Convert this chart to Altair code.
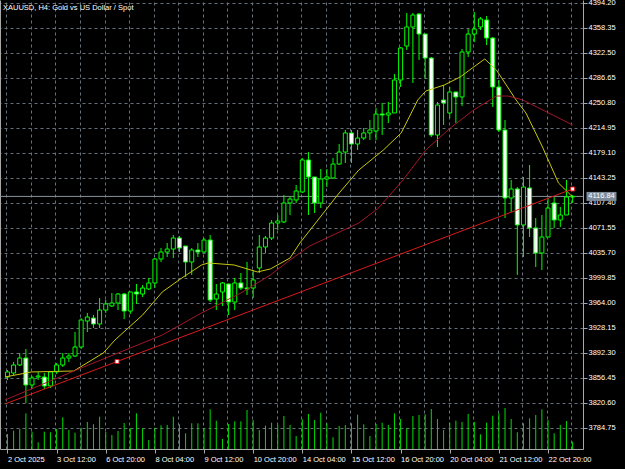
import altair as alt
import pandas as pd

# ---------------- data ----------------
title_text = "XAUUSD, H4:  Gold vs US Dollar / Spot"

opens = [3857.9, 3863.6, 3875.1, 3885.1, 3846.4, 3857.9, 3857.9, 3845.0, 3865.1, 3875.1,
         3885.1, 3888.0, 3900.9, 3938.2, 3942.4, 3933.9, 3953.9, 3959.7, 3964.0, 3976.9,
         3952.5, 3979.8, 3976.9, 3984.1, 3992.7, 4027.1, 4037.1, 4041.4, 4057.2, 4045.7,
         4022.8, 4040.0, 4037.1, 4054.3, 3969.7, 3979.8, 3991.3, 3965.4, 3992.7, 3985.5,
         3985.5, 4014.2, 4044.3, 4057.2, 4078.7, 4080.2, 4107.4, 4111.7, 4123.2, 4169.1,
         4144.7, 4107.4, 4141.8, 4143.3, 4163.3, 4180.5, 4207.8, 4192.0, 4200.6, 4207.8,
         4210.6, 4235.0, 4233.6, 4236.5, 4283.8, 4332.5, 4359.8, 4378.4, 4349.7, 4315.3,
         4204.9, 4255.1, 4236.5, 4266.6, 4259.4, 4323.9, 4349.7, 4359.8, 4369.8, 4344.0,
         4273.7, 4212.1, 4114.6, 4127.5, 4075.9, 4128.9, 4071.6, 4035.7, 4058.6, 4107.4,
         4083.0, 4090.2, 4116.0]
highs = [3867.9, 3879.4, 3892.3, 3898.0, 3859.3, 3865.1, 3863.6, 3866.5, 3877.9, 3892.3,
         3892.3, 3922.4, 3942.4, 3949.7, 3946.8, 3971.2, 3968.3, 3978.3, 3978.3, 3978.3,
         3979.8, 3991.3, 3989.8, 3999.9, 4028.5, 4042.9, 4050.0, 4061.5, 4060.1, 4045.7,
         4042.9, 4050.0, 4057.2, 4061.5, 3991.3, 3994.1, 3991.3, 3999.9, 4007.0, 4022.8,
         4011.3, 4061.5, 4060.1, 4083.0, 4090.2, 4118.9, 4117.4, 4133.2, 4171.9, 4180.5,
         4144.7, 4156.2, 4156.2, 4171.9, 4192.0, 4212.1, 4212.1, 4212.1, 4215.0, 4226.4,
         4243.6, 4250.8, 4252.2, 4292.4, 4331.1, 4379.9, 4379.9, 4379.9, 4349.7, 4316.8,
         4252.2, 4276.6, 4273.7, 4266.6, 4328.2, 4356.9, 4381.3, 4374.1, 4375.6, 4345.4,
         4283.8, 4226.4, 4140.4, 4130.3, 4144.7, 4161.9, 4085.9, 4090.2, 4114.6, 4116.0,
         4101.7, 4140.4, 4118.9]
lows = [3853.6, 3860.8, 3873.7, 3820.6, 3840.7, 3853.6, 3840.7, 3842.1, 3862.2, 3872.2,
        3879.4, 3886.6, 3898.0, 3922.4, 3928.2, 3928.2, 3949.7, 3958.3, 3953.9, 3941.0,
        3948.2, 3962.6, 3972.6, 3982.6, 3985.5, 4022.8, 4030.0, 4028.5, 4037.1, 4001.3,
        4004.2, 4030.0, 4035.7, 3965.4, 3953.9, 3959.7, 3946.8, 3953.9, 3982.6, 3975.5,
        3971.2, 4007.0, 4035.7, 4054.3, 4068.7, 4078.7, 4090.2, 4107.4, 4121.7, 4090.2,
        4093.1, 4100.2, 4130.3, 4141.8, 4161.9, 4164.8, 4164.8, 4183.4, 4197.7, 4197.7,
        4197.7, 4204.9, 4222.1, 4236.5, 4273.7, 4326.8, 4279.5, 4312.5, 4285.2, 4202.0,
        4187.7, 4219.3, 4229.3, 4222.1, 4246.5, 4316.8, 4338.3, 4355.5, 4334.0, 4245.1,
        4209.2, 4085.9, 4094.5, 4004.2, 4030.0, 4058.6, 4015.6, 4011.3, 4058.6, 4071.6,
        4073.0, 4090.2, 4107.4]
closes = [3865.1, 3875.1, 3885.1, 3846.4, 3856.5, 3859.3, 3845.0, 3865.1, 3875.1, 3885.1,
          3888.0, 3900.9, 3939.6, 3943.9, 3933.9, 3953.9, 3962.6, 3964.0, 3976.9, 3952.5,
          3979.8, 3976.9, 3985.5, 3992.7, 4027.1, 4037.1, 4041.4, 4057.2, 4042.9, 4022.8,
          4040.0, 4037.1, 4054.3, 3968.3, 3976.9, 3992.7, 3965.4, 3992.7, 3985.5, 3984.1,
          3997.0, 4044.3, 4057.2, 4078.7, 4081.6, 4107.4, 4113.1, 4124.6, 4169.1, 4144.7,
          4107.4, 4141.8, 4144.7, 4163.3, 4180.5, 4207.8, 4192.0, 4200.6, 4207.8, 4212.1,
          4235.0, 4233.6, 4236.5, 4283.8, 4329.7, 4359.8, 4377.0, 4349.7, 4315.3, 4204.9,
          4247.9, 4250.8, 4266.6, 4259.4, 4323.9, 4349.7, 4356.9, 4371.3, 4344.0, 4273.7,
          4212.1, 4114.6, 4127.5, 4075.9, 4130.3, 4071.6, 4035.7, 4058.6, 4100.2, 4083.0,
          4090.2, 4116.0, 4116.84]
volumes = [15000, 18300, 20000, 35700, 17300, 6700, 17300, 16700, 20000, 31700,
           19000, 16300, 21300, 27000, 24700, 32300, 17000, 14000, 18000, 26000,
           20700, 35700, 20700, 9000, 21300, 23700, 24000, 32300, 24700, 15700,
           25700, 25700, 20700, 39700, 28300, 10000, 25000, 27700, 27700, 39000,
           29000, 19000, 23300, 26300, 24000, 33000, 24000, 13000, 29700, 35000,
           29000, 36300, 25700, 11700, 23000, 24000, 25700, 34300, 24700, 13000,
           25000, 26300, 24000, 35700, 30000, 20700, 33000, 34000, 34700, 40000,
           30000, 19000, 26300, 28300, 27000, 35000, 27000, 14700, 26300, 33300,
           35700, 41000, 30000, 16700, 25700, 30700, 34000, 39700, 29000, 15700,
           24000, 28000, 7300]

tick_bars = [0, 8, 16, 24, 32, 40, 48, 56, 64, 72, 80, 88]
tick_labels = ["2 Oct 2025", "3 Oct 12:00", "6 Oct 20:00", "8 Oct 04:00", "9 Oct 12:00",
               "10 Oct 20:00", "14 Oct 04:00", "15 Oct 12:00", "16 Oct 20:00",
               "20 Oct 04:00", "21 Oct 12:00", "22 Oct 20:00"]
grid_bars = [4 * k - 0.2 for k in range(24)]
price_ticks = [4394.20, 4358.35, 4322.50, 4286.65, 4250.80, 4214.95, 4179.10, 4143.25,
               4107.40, 4071.55, 4035.70, 3999.85, 3964.00, 3928.15, 3892.30, 3856.45,
               3820.60, 3784.75]

fast_bars = [-0.4, 3.9, 10.8, 15.6, 17.5, 19.3, 22.0, 25.2, 28.4, 31.6, 32.7, 36.9, 40.7,
             42.8, 46.0, 47.6, 54.0, 57.2, 61.2, 64.1, 66.8, 68.1, 71.1, 73.7, 75.9, 77.7,
             79.6, 82.8, 84.4, 87.1, 89.7, 92.0]
fast_vals = [3857.9, 3865.1, 3866.5, 3892.3, 3910.9, 3925.3, 3946.8, 3979.8, 3999.9, 4018.5,
             4021.4, 4018.5, 4008.5, 4012.8, 4028.5, 4050.0, 4121.7, 4154.7, 4183.4, 4207.8,
             4255.1, 4268.0, 4276.6, 4288.1, 4302.4, 4313.9, 4298.1, 4255.1, 4236.5, 4187.7,
             4136.1, 4116.0]
slow_bars = [-0.4, 12.4, 25.2, 31.6, 38.0, 42.8, 46.0, 49.2, 57.2, 60.4, 64.4, 68.1, 72.1,
             75.9, 79.6, 81.5, 83.9, 92.0]
slow_vals = [3824.9, 3872.2, 3918.1, 3949.7, 3978.3, 4004.2, 4025.7, 4045.7, 4078.7, 4100.2,
             4140.4, 4183.4, 4215.0, 4240.8, 4260.8, 4260.8, 4255.1, 4219.3]
trend_bars = [-0.4, 92.0]
trend_vals = [3819.2, 4127.5]
marker_bars = [17.84, 92.0]
marker_vals = [3880.1, 4127.5]
last_price = 4116.84

# ---------------- styling ----------------
W, H = 583, 449
GREEN = "#00ff00"
VOL_GREEN = "#00dd00"
YELLOW = "#c8c810"
SLOW_RED = "#a3152a"
TREND_RED = "#d81a1a"
AX_COLOR = "#a8a8a8"
GRID_COLOR = "#67707a"
PRICE_LINE = "#8a929a"
TXT = "#ffffff"
FONT = "Liberation Sans"
FS = 7.5

candles = pd.DataFrame({"bar": list(range(len(opens))), "open": opens, "high": highs,
                        "low": lows, "close": closes, "volume": volumes})
fast_df = pd.DataFrame({"bar": fast_bars, "val": fast_vals})
slow_df = pd.DataFrame({"bar": slow_bars, "val": slow_vals})
trend_df = pd.DataFrame({"bar": trend_bars, "val": trend_vals})
marker_df = pd.DataFrame({"bar": marker_bars, "val": marker_vals})
price_df = pd.DataFrame({"price": [last_price], "label": ["%.2f" % last_price]})
title_df = pd.DataFrame({"t": [title_text]})

x_scale = alt.Scale(domain=[-0.4, 92.88], nice=False, zero=False)
y_scale = alt.Scale(domain=[3754.63, 4398.50], nice=False, zero=False)

label_expr = "[" + ",".join("'%s'" % s for s in tick_labels) + "][round(datum.value / 8)]"

x_bottom = alt.Axis(orient="bottom", values=tick_bars, labelExpr=label_expr, grid=False,
                    domainColor=AX_COLOR, tickColor=AX_COLOR, tickSize=4, labelAlign="left",
                    labelBaseline="top", labelPadding=2, labelColor=TXT, labelFont=FONT,
                    labelFontSize=FS, title=None, labelOverlap=False, labelFlush=False,
                    labelBound=False)
x_grid = alt.Axis(orient="top", values=grid_bars, grid=True, gridColor=GRID_COLOR,
                  gridDash=[3, 3], gridWidth=1, labels=False, ticks=False, domain=False,
                  title=None)
y_right = alt.Axis(orient="right", values=price_ticks, format=".2f", grid=True,
                   gridColor=GRID_COLOR, gridDash=[3, 3], gridWidth=1, domainColor=AX_COLOR,
                   tickColor=AX_COLOR, tickSize=4, labelPadding=1, labelColor=TXT,
                   labelFont=FONT, labelFontSize=FS, title=None, labelOverlap=False,
                   labelFlush=False, labelBound=False)
y_left = alt.Axis(orient="left", labels=False, ticks=False, grid=False,
                  domainColor=AX_COLOR, title=None)

X = lambda f="bar:Q", ax=None: alt.X(f, scale=x_scale, axis=ax)
Y = lambda f, ax=None: alt.Y(f, scale=y_scale, axis=ax)

base = alt.Chart(candles)

grid_layer = base.mark_point(opacity=0).encode(x=X(ax=x_grid), y=Y("close:Q", y_left))

price_line = alt.Chart(price_df).mark_rule(color=PRICE_LINE, strokeWidth=1).encode(
    y=Y("price:Q"))

wicks = base.mark_rule(color=GREEN, strokeWidth=1).encode(
    x=X(ax=x_bottom), y=Y("low:Q", y_right), y2="high:Q")

bodies = base.mark_bar(size=4, stroke=GREEN, strokeWidth=1).encode(
    x=X(), y=Y("open:Q"), y2="close:Q",
    fill=alt.condition("datum.close >= datum.open", alt.value("black"), alt.value("white")))

fast_line = alt.Chart(fast_df).mark_line(color=YELLOW, strokeWidth=1).encode(
    x=X(), y=Y("val:Q"))
slow_line = alt.Chart(slow_df).mark_line(color=SLOW_RED, strokeWidth=1).encode(
    x=X(), y=Y("val:Q"))
trend_line = alt.Chart(trend_df).mark_line(color=TREND_RED, strokeWidth=1).encode(
    x=X(), y=Y("val:Q"))
markers = alt.Chart(marker_df).mark_point(
    shape="square", filled=True, fill="white", stroke=TREND_RED, strokeWidth=1, size=16,
    opacity=1).encode(x=X(), y=Y("val:Q"))

label_box = alt.Chart(price_df).mark_point(
    shape="M-1,-0.3L1,-0.3L1,0.3L-1,0.3Z", filled=True, fill="#7d8b99", strokeWidth=0,
    size=900, opacity=1).encode(x=alt.value(601.5), y=Y("price:Q"))
label_text = alt.Chart(price_df).mark_text(
    align="center", baseline="middle", color=TXT, font=FONT, fontSize=FS).encode(
    x=alt.value(601.5), y=Y("price:Q"), text="label:N")

title = alt.Chart(title_df).mark_text(
    align="left", baseline="middle", color=TXT, font=FONT, fontSize=FS).encode(
    x=alt.value(3), y=alt.value(8), text="t:N")

price_group = alt.layer(grid_layer, price_line, wicks, bodies, fast_line, slow_line,
                        trend_line, markers, label_box, label_text, title)

vol = base.mark_rule(color=VOL_GREEN, strokeWidth=1).encode(
    x=X(), y=alt.Y("volume:Q", scale=alt.Scale(domain=[0, 449000], nice=False, zero=True),
                   axis=None),
    y2=alt.datum(0))

chart = alt.layer(vol, price_group).resolve_scale(y="independent").properties(
    width=W, height=H,
    padding={"left": 0, "top": 0, "right": 625 - W, "bottom": 469 - H},
    autosize=alt.AutoSizeParams(type="none"),
).configure(background="black").configure_view(stroke=None)

chart.save("out.html", embed_options={"renderer": "svg", "actions": False})
